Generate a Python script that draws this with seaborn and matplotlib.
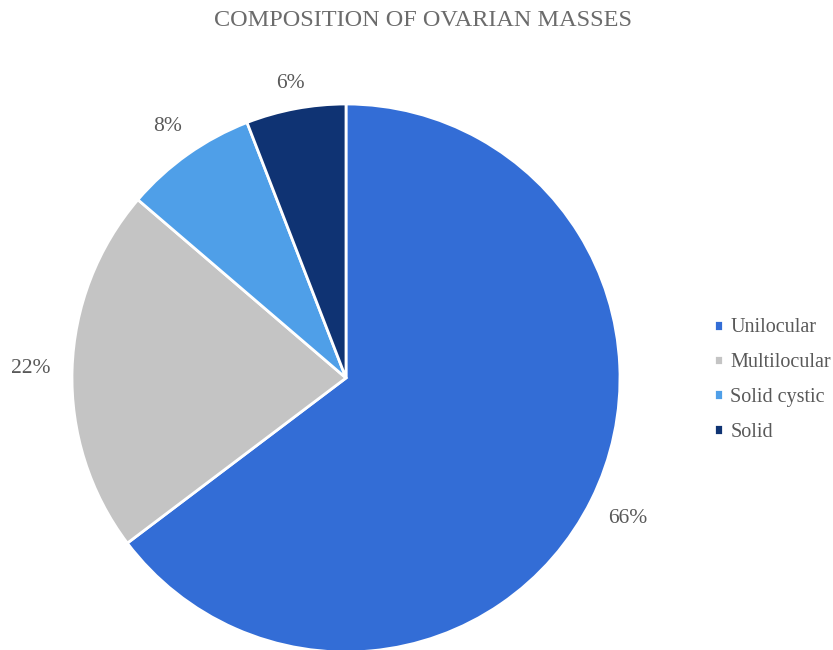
import seaborn as sns
import matplotlib.pyplot as plt

# Pie data (percent of ovarian masses)
categories = ["Unilocular", "Multilocular", "Solid cystic", "Solid"]
percents = [66, 22, 8, 6]
colors = sns.color_palette(["#336DD6", "#C4C4C4", "#4F9FE8", "#0F3373"])

sns.set_theme(style="white")
plt.rcParams["font.family"] = ["Liberation Serif", "DejaVu Serif"]

fig = plt.figure(figsize=(8.33, 6.5), dpi=100)
# square axes placed so the pie sits left of the legend
ax = fig.add_axes([72 / 833, -2 / 650, 548 / 833, 548 / 650])

total = sum(percents)
wedges, texts, autotexts = ax.pie(
    percents,
    colors=colors,
    startangle=90,
    counterclock=False,
    radius=1,
    autopct=lambda p: f"{p * total / 100:.0f}%",
    pctdistance=1.15,
    wedgeprops=dict(edgecolor="white", linewidth=2),
    textprops=dict(color="#595959", fontsize=15.5),
)
# small slices keep their labels a bit closer to the rim
for t, d in zip(autotexts, [1.15, 1.15, 1.125, 1.095]):
    x, y = t.get_position()
    t.set_position((x * d / 1.15, y * d / 1.15))

ax.set_xlim(-1, 1)
ax.set_ylim(-1, 1)
ax.set_aspect("equal")
ax.axis("off")

fig.suptitle("COMPOSITION OF OVARIAN MASSES", x=423 / 833, y=1 - 21 / 650,
             va="center", fontsize=17.5, color="#6B6B6B")

fig.legend(wedges, categories, loc="center left",
           bbox_to_anchor=(696 / 833, 1 - 380 / 650), frameon=False,
           fontsize=14.5, handlelength=0.45, handleheight=0.45,
           handletextpad=0.35, labelspacing=0.78, labelcolor="#595959")

fig.savefig("out.png", dpi=100)
